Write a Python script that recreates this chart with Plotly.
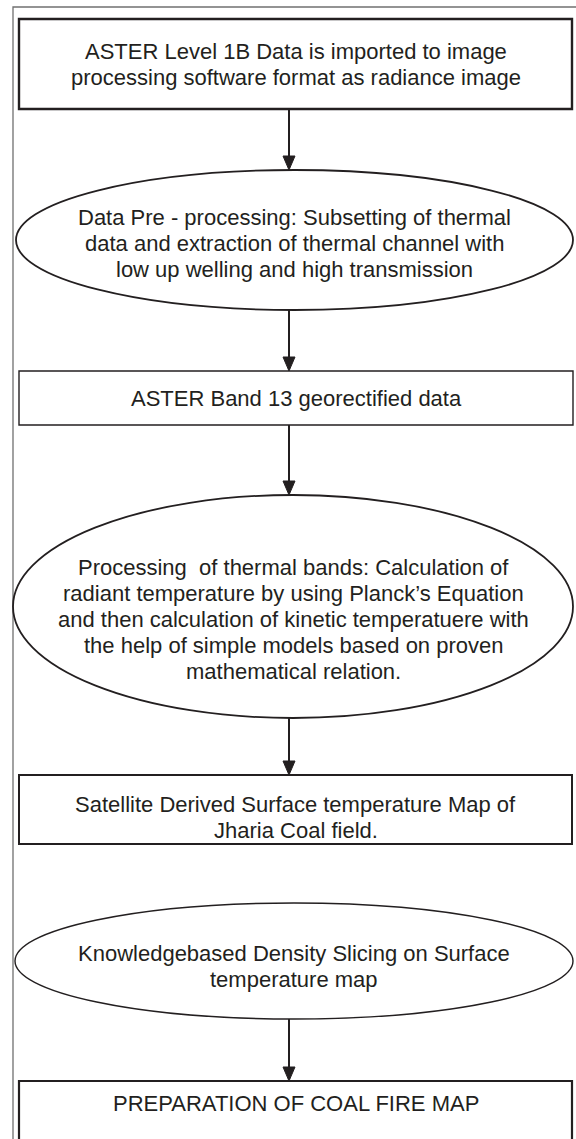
import plotly.graph_objects as go

# ---- flowchart content ----
labels = [
    ["ASTER Level 1B Data is imported to image",
     "processing software format as radiance image"],
    ["Data Pre - processing: Subsetting of thermal",
     "data and extraction of thermal channel with",
     "low up welling and high transmission"],
    ["ASTER Band 13 georectified data"],
    ["Processing  of thermal bands: Calculation of",
     "radiant temperature by using Planck\u2019s Equation",
     "and then calculation of kinetic temperatuere with",
     "the help of simple models based on proven",
     "mathematical relation."],
    ["Satellite Derived Surface temperature Map of",
     "Jharia Coal field."],
    ["Knowledgebased Density Slicing on Surface",
     "temperature map"],
    ["PREPARATION OF COAL FIRE MAP"],
]
kinds = ["box", "ellipse", "box", "ellipse", "box", "ellipse", "box"]
edges = [(0, 1), (1, 2), (2, 3), (3, 4), (5, 6)]

# ---- geometry (pixels, y downward) ----
W, H = 576, 1139
node_x0 = [19, 16, 19, 13, 19, 15, 19]
node_x1 = [572, 573, 573, 573, 572, 573, 572]
node_y0 = [19, 170, 371, 495, 775, 903, 1081]
node_y1 = [109, 310, 425, 718, 844, 1019, 1170]
text_y = [64, 243, 398, 619, 817, 966, 1103]
node_lw = [2.4, 1.8, 1.4, 1.8, 2.0, 1.4, 2.2]
line_gap = 26
font_size = 22
arrow_x = 289
head_len, head_half = 14, 6
ink = "#231f20"

fig = go.Figure()
shapes = []
annotations = []

# outer frame (left and top edges only visible)
shapes.append(dict(type="path", path=f"M 13 {H+10} L 13 7 L {W+10} 7",
                   line=dict(color="#707070", width=1.3), xref="x", yref="y"))

for i, k in enumerate(kinds):
    shapes.append(dict(type="rect" if k == "box" else "circle",
                       x0=node_x0[i], x1=node_x1[i], y0=node_y0[i], y1=node_y1[i],
                       line=dict(color=ink, width=node_lw[i]), fillcolor="rgba(0,0,0,0)",
                       xref="x", yref="y"))
    n = len(labels[i])
    cx = (node_x0[i] + node_x1[i]) / 2
    for j, line in enumerate(labels[i]):
        annotations.append(dict(x=cx, y=text_y[i] + (j - (n - 1) / 2) * line_gap,
                                xref="x", yref="y", text=line,
                                showarrow=False, xanchor="center", yanchor="middle",
                                font=dict(family="Liberation Sans, Arial, sans-serif",
                                          size=font_size, color=ink)))

for a, b in edges:
    ys, yt = node_y1[a], node_y0[b]
    shapes.append(dict(type="line", x0=arrow_x, x1=arrow_x, y0=ys, y1=yt - head_len + 1,
                       line=dict(color=ink, width=2), xref="x", yref="y"))
    shapes.append(dict(type="path",
                       path=f"M {arrow_x} {yt} L {arrow_x-head_half} {yt-head_len} L {arrow_x+head_half} {yt-head_len} Z",
                       fillcolor=ink, line=dict(color=ink, width=1), xref="x", yref="y"))

fig.update_layout(
    width=W, height=H, margin=dict(l=0, r=0, t=0, b=0),
    paper_bgcolor="white", plot_bgcolor="white",
    xaxis=dict(range=[0, W], visible=False, fixedrange=True),
    yaxis=dict(range=[H, 0], visible=False, fixedrange=True),
    shapes=shapes, annotations=annotations, showlegend=False,
)
fig.write_html("out.html", config={"displayModeBar": False},
               post_script="document.body.style.margin='0';")
